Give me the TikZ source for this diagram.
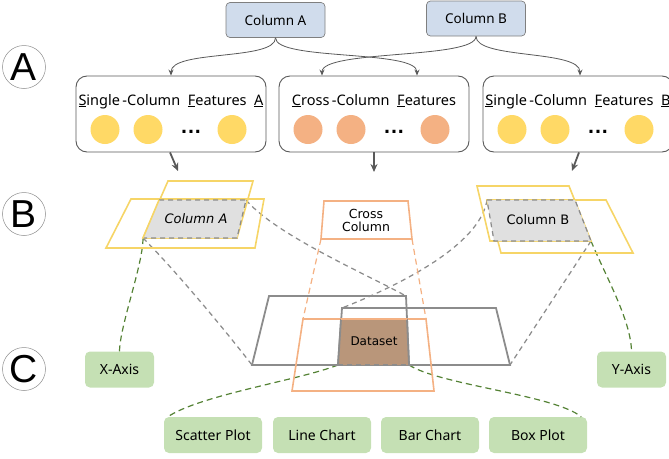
\documentclass[tikz,border=0pt]{standalone}
\usepackage{fontspec}
\setmainfont{Noto Sans}
\newfontfamily\djv{DejaVu Sans}
\newfontfamily\lsans{Liberation Sans}
\usetikzlibrary{arrows.meta}
\definecolor{topblue}{HTML}{D0DCEC}
\definecolor{boxline}{HTML}{7F7F7F}
\definecolor{yel}{HTML}{FFD966}
\definecolor{yelline}{HTML}{F6D567}
\definecolor{ora}{HTML}{F4B183}
\definecolor{grn}{HTML}{C5E0B4}
\definecolor{grnline}{HTML}{548235}
\definecolor{brn}{HTML}{B9967A}
\definecolor{gfill}{HTML}{E0E0E0}
\definecolor{dgray}{HTML}{595959}
\definecolor{mgray}{HTML}{8C8C8C}
\begin{document}
\begin{tikzpicture}[x=1pt,y=-1pt,
  topbox/.style={draw=boxline, fill=topblue, rounded corners=4pt, line width=0.7pt, minimum width=99pt, minimum height=35pt, inner sep=0pt, font=\fontsize{13.5}{16}\selectfont},
  featbox/.style={draw=dgray, line width=0.9pt, rounded corners=11pt, minimum width=190pt, minimum height=76pt, inner sep=0pt},
  feattitle/.style={font=\fontsize{14.5}{17}\selectfont, inner sep=0pt, anchor=base},
  ydot/.style={circle, fill=yel, minimum size=29pt, inner sep=0pt},
  odot/.style={circle, fill=ora, minimum size=29pt, inner sep=0pt},
  ellip/.style={font=\djv\bfseries\fontsize{17}{17}\selectfont, inner sep=0pt, anchor=base},
  grnbox/.style={fill=grn, rounded corners=5pt, minimum height=36pt, inner sep=0pt, font=\fontsize{14}{16}\selectfont},
  letter/.style={circle, draw=mgray, line width=0.5pt, minimum size=43pt, inner sep=0pt, font=\lsans\fontsize{39}{39}\selectfont},
  thinarr/.style={draw=dgray, line width=0.8pt, -{Stealth[length=6pt,width=5pt]}},
  thickarr/.style={draw=dgray, line width=1.8pt, -{Stealth[length=8pt,width=7pt]}},
  yline/.style={draw=yelline, line width=1.6pt},
  oline/.style={draw=ora, line width=1.6pt},
  gline/.style={draw=mgray, line width=1.8pt},
  gdash/.style={draw=mgray, line width=1.25pt, dash pattern=on 5pt off 4pt},
  grdash/.style={draw=grnline, line width=1.2pt, dash pattern=on 6pt off 4pt},
  odash/.style={draw=ora, line width=1.2pt, dash pattern=on 6pt off 4pt},
  lbl/.style={font=\djv\fontsize{12.5}{14}\selectfont, inner sep=0pt, align=center},
]
\clip (0,0) rectangle (669,458);

% circled letters
\node[letter] (LA) at (24,67) {A};
\node[letter] (LB) at (24,214) {B};
\node[letter] (LC) at (24,369) {C};

% top boxes
\node[topbox] (ca) at (275.5,20) {Column A};
\node[topbox] (cb) at (476,18.5) {Column B};

% feature boxes
\node[featbox] (fl) at (171,114) {};
\node[featbox] (fm) at (374,114) {};
\node[featbox] (fr) at (578,114) {};
\node[feattitle] (tl) at (171,105) {\underline{S}ingle\,-Column\ \ \underline{F}eatures\ \ \underline{A}};
\node[feattitle] (tm) at (374,105) {\underline{C}ross\,-Column\ \ \underline{F}eatures};
\node[feattitle] (tr) at (578,105) {\underline{S}ingle\,-Column\ \ \underline{F}eatures\ \ \underline{B}};
\foreach \cx/\nm/\st in {171/l/ydot,374/m/odot,578/r/ydot}{
  \node[\st] (\nm1) at (\cx-66,129.5) {};
  \node[\st] (\nm2) at (\cx-23,129.5) {};
  \node[\st] (\nm3) at (\cx+61,129.5) {};
  \node[ellip] (\nm d) at (\cx+20,133) {.\kern0.5pt.\kern0.5pt.};
}

% thin arrows
\draw[thinarr] (ca.south) .. controls +(0,23) and +(0,-26) .. (fl.north);
\draw[thinarr] (ca.south) .. controls +(0,23) and +(0,-26) .. ([xshift=43pt]fm.north);
\draw[thinarr] (cb.south) .. controls +(0,23) and +(0,-26) .. ([xshift=-52pt]fm.north);
\draw[thinarr] (cb.south) .. controls +(0,23) and +(0,-26) .. ([xshift=2pt]fr.north);

% thick arrows
\coordinate (ba) at (178,171);
\coordinate (bm) at (374,172);
\coordinate (bb) at (572,171);
\draw[thickarr] ([xshift=-1pt]fl.south) -- (ba);
\draw[thickarr] (fm.south) -- (bm);
\draw[thickarr] ([xshift=1pt]fr.south) -- (bb);

% key corners
\coordinate (aTR) at (246,200);
\coordinate (aBL) at (143,238);
\coordinate (bTL) at (487,200);
\coordinate (bBR) at (591,241);
\coordinate (r1TR) at (406,296);
\coordinate (r1BL) at (252,365);
\coordinate (r2TL) at (342,308);
\coordinate (r2BR) at (510,365);
\coordinate (cBL) at (321,239);
\coordinate (cBR) at (412,239);
\coordinate (oTL) at (303,319);
\coordinate (oTR) at (426,319);
\coordinate (dBL) at (338,365);
\coordinate (dBR) at (409,365);

% green label boxes
\node[grnbox, minimum width=69pt] (xa) at (119.5,369.5) {X-Axis};
\node[grnbox, minimum width=69pt] (ya) at (631.5,369.5) {Y-Axis};
\node[grnbox, minimum width=98pt] (sp) at (213,435) {Scatter Plot};
\node[grnbox, minimum width=98pt] (lc) at (322,435) {Line Chart};
\node[grnbox, minimum width=98pt] (bc) at (430,435) {Bar Chart};
\node[grnbox, minimum width=98pt] (bp) at (538,435) {Box Plot};

% dashed connectors
\draw[gdash] (aTR) .. controls (276,235) and (366,274) .. (r1TR);
\draw[gdash] (aBL) .. controls (175,270) and (225,330) .. (r1BL);
\draw[gdash] (bTL) .. controls (480,245) and (400,285) .. (r2TL);
\draw[gdash] (bBR) -- (r2BR);
\draw[odash] (cBL) -- (oTL);
\draw[odash] (cBR) -- (oTR);
\draw[grdash] (aBL) .. controls (143,265) and (120,325) .. (xa.north);
\draw[grdash] (bBR) .. controls (605,275) and (631,320) .. (ya.north);
\draw[grdash] (dBL) .. controls (300,380) and (200,395) .. ([xshift=4pt]sp.north west);
\draw[grdash] (dBR) .. controls (440,385) and (555,395) .. ([xshift=-6pt]bp.north east);

% Column A layer
\draw[yline] (168,181) -- (253,181) -- (237,238) -- (143,238) -- cycle;
\draw[yline] (131,199) -- (264,199) -- (255,248) -- (106,248) -- cycle;
\fill[gfill] (159,200) -- (246,200) -- (237,238) -- (143,238) -- cycle;
\draw[gdash] (159,200) -- (246,200) -- (237,238) -- (143,238);
\draw[yline] (159,200) -- (143,238);
\node[lbl, font=\djv\itshape\fontsize{13}{15}\selectfont] (ta) at (196,219) {Column A};

% Column B layer
\draw[yline] (477,186) -- (569,186) -- (591,241) -- (490,241) -- cycle;
\draw[yline] (487,200) -- (606,200) -- (633,253) -- (501,253) -- cycle;
\fill[gfill] (487,200) -- (575,200) -- (591,241) -- (494,241) -- cycle;
\draw[gdash] (487,200) -- (575,200) -- (591,241) -- (494,241) -- cycle;
\node[lbl, font=\djv\fontsize{13}{15}\selectfont] (tb) at (538,220) {Column B};

% Cross column
\draw[oline] (324,201) -- (408,201) -- (412,239) -- (321,239) -- cycle;
\node[lbl] (tc) at (366,220) {Cross\\[-1pt]Column};

% Dataset layer
\draw[gline] (269,296) -- (406,296) -- (409,365) -- (252,365) -- cycle;
\draw[gline] (342,308) -- (496,308) -- (510,365) -- (338,365) -- cycle;
\draw[oline] (303,319) -- (426,319) -- (434,391) -- (292,391) -- cycle;
\fill[brn] (341,319) -- (407,319) -- (409,365) -- (338,365) -- cycle;
\draw[gline] (341,319) -- (338,365);
\draw[gline] (407,319) -- (409,365);
\draw[oline] (341,319) -- (407,319);
\draw[gdash] (338,365) -- (409,365);
\node[lbl, font=\djv\fontsize{12}{14}\selectfont] (td) at (374,341) {Dataset};
\end{tikzpicture}
\end{document}
